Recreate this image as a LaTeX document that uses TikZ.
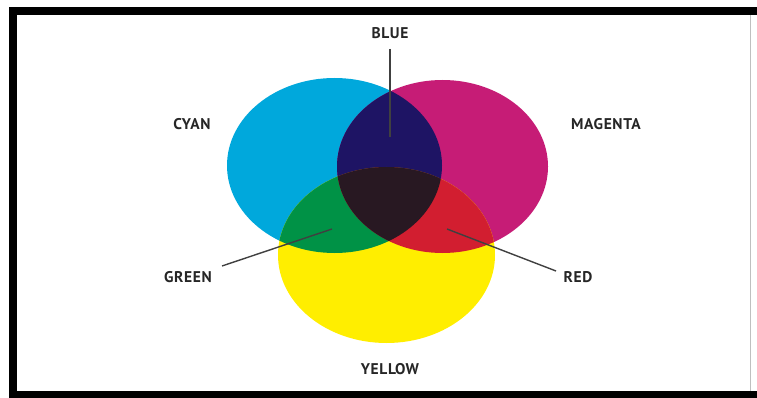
\documentclass[tikz,border=0pt]{standalone}
\usepackage{fontspec}
\setmainfont{PT Sans}
\begin{document}
\begin{tikzpicture}[x=1pt,y=-1pt,
  lbl/.style={font=\bfseries\fontsize{15.5}{15.5}\selectfont\addfontfeature{LetterSpace=4}, text=black!85, inner sep=0pt},
  leader/.style={draw=black!75, line width=1.4pt}]
\useasboundingbox (0,0) rectangle (757,398);
\definecolor{cCyan}{RGB}{0,168,220}
\definecolor{cMag}{RGB}{198,28,118}
\definecolor{cYel}{RGB}{255,238,0}
\definecolor{cBlue}{RGB}{30,20,100}
\definecolor{cGreen}{RGB}{0,146,70}
\definecolor{cRed}{RGB}{210,30,48}
\definecolor{cDark}{RGB}{40,24,34}
% frame
\fill[white] (0,0) rectangle (757,398);
\fill[black] (9,7) rectangle (757,15);
\fill[black] (9,7) rectangle (17,398);
\fill[black] (9,391) rectangle (757,398);
\draw[black!25, line width=0.8pt] (750,15) -- (750,391);
% circles
\def\cyanE{(334.5,165.5) ellipse [x radius=107.5, y radius=87.5]}
\def\magE{(442.5,166.5) ellipse [x radius=105.5, y radius=86.5]}
\def\yelE{(386.5,255) ellipse [x radius=108.5, y radius=88]}
\fill[cCyan] \cyanE;
\fill[cMag] \magE;
\fill[cYel] \yelE;
\begin{scope}\clip \cyanE; \fill[cBlue] \magE; \end{scope}
\begin{scope}\clip \cyanE; \fill[cGreen] \yelE; \end{scope}
\begin{scope}\clip \magE; \fill[cRed] \yelE; \end{scope}
\begin{scope}\clip \cyanE; \clip \magE; \fill[cDark] \yelE; \end{scope}
% labels
\node[lbl] (blue) at (390,33) {BLUE};
\node[lbl] (cyan) at (192,124) {CYAN};
\node[lbl] (magenta) at (606,124) {MAGENTA};
\node[lbl] (green) at (188,277) {GREEN};
\node[lbl] (red) at (578,277) {RED};
\node[lbl] (yellow) at (390,369) {YELLOW};
% leaders
\coordinate (blueA) at (390,49);
\coordinate (blueB) at (390,137);
\coordinate (greenA) at (222,266);
\coordinate (greenB) at (332,229);
\coordinate (redA) at (556,271);
\coordinate (redB) at (447,229);
\draw[leader] (blueA) -- (blueB);
\draw[leader] (greenA) -- (greenB);
\draw[leader] (redA) -- (redB);
\end{tikzpicture}
\end{document}
